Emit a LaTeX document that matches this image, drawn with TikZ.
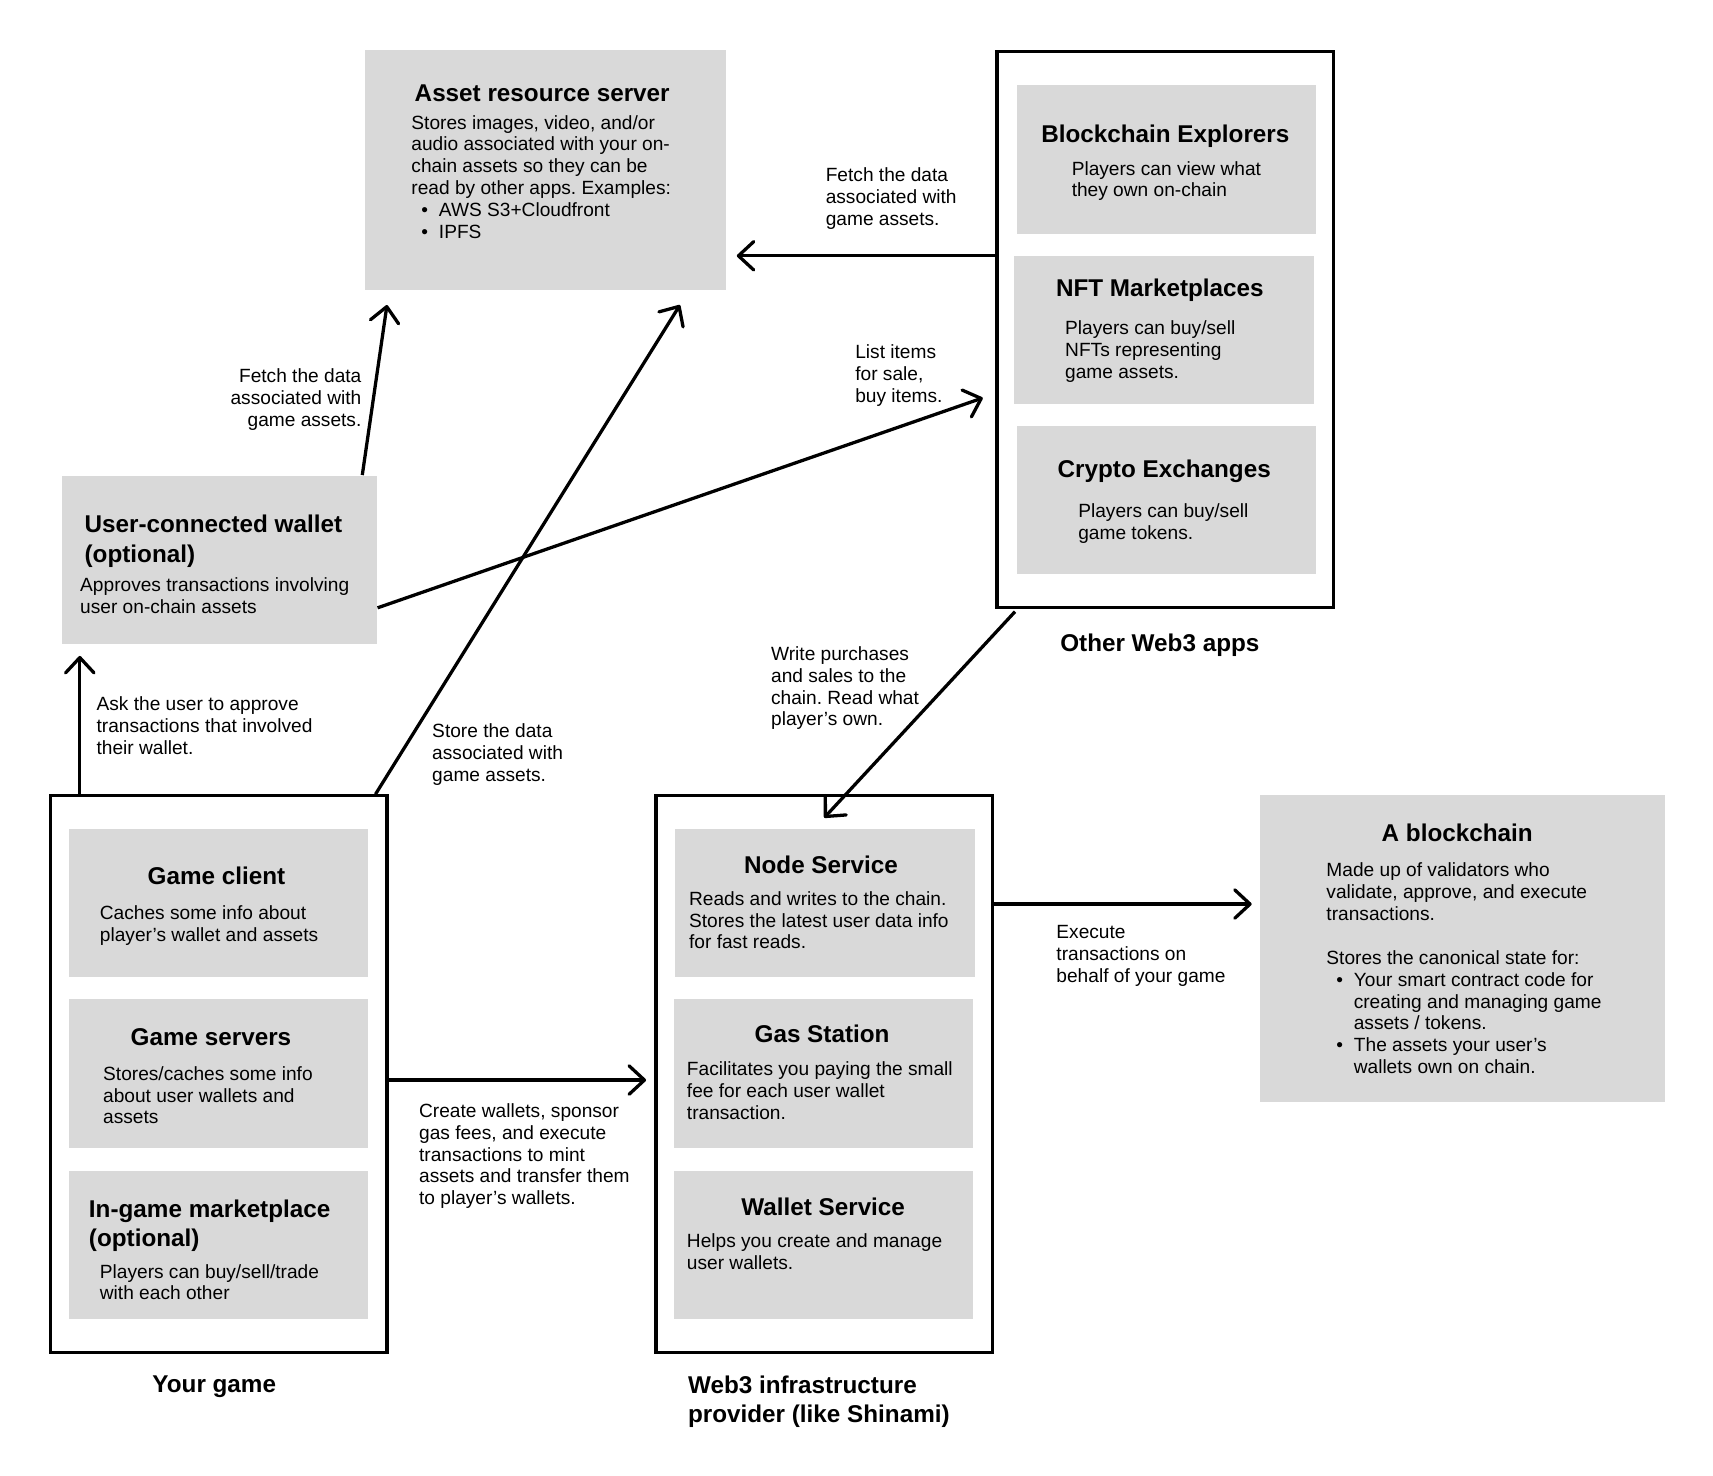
\documentclass[tikz,border=0pt]{standalone}
\usepackage{fontspec}
\setmainfont{Liberation Sans}
\usepackage{xcolor}
\usetikzlibrary{arrows.meta,calc}
\definecolor{cardgray}{HTML}{D9D9D9}
\frenchspacing
\newcommand{\bodyfont}{\fontsize{8.75}{10}\selectfont}
\newcommand{\headfont}{\fontsize{11.1}{13.5}\selectfont\bfseries}
\newcommand{\itm}{\hspace*{4.5pt}\textbullet\hspace{5pt}}
\newcommand{\cont}{\hspace*{12.5pt}}

\begin{document}
\begin{tikzpicture}[x=0.5pt,y=-0.5pt]
  \tikzset{grp/.style = {shape=rectangle,draw,line width=1.5pt,inner sep=0pt,minimum width=154pt,minimum height=254.5pt}}
  \tikzset{card/.style = {shape=rectangle,fill=cardgray,inner sep=0pt,minimum width=137pt,minimum height=68pt}}
  \tikzset{ttl/.style = {inner sep=0pt,font=\headfont,anchor=base}}
  \tikzset{txt/.style = {inner sep=0pt,font=\bodyfont,align=left,anchor=north west}}
  \tikzset{flow/.style = {-{Straight Barb[length=7pt,width=13pt,round]},line width=1.5pt}}

  \fill[white] (0,0) rectangle (1567,1350);
  \useasboundingbox (0,0) rectangle (1567,1350);

  % groups
  \node[grp] (O) at (1066,301.5) {};
  \node[grp] (G) at (200,982.5) {};
  \node[grp] (I) at (754,982.5) {};
  \node[ttl] (Ol) at (1061,596) {Other Web3 apps};
  \node[ttl] (Gl) at (196,1274) {Your game};
  \node[ttl,anchor=north west,align=left] (Il) at (629,1258) {Web3 infrastructure\\provider (like Shinami)};

  % asset server
  \node[card,minimum width=165pt,minimum height=109.5pt] (S) at (499,155.5) {};
  \node[ttl] (St) at (496,93) {Asset resource server};
  \node[txt] (Sb) at (376,105) {Stores images, video, and/or\\audio associated with your on-\\chain assets so they can be\\read by other apps. Examples:\\\itm AWS S3+Cloudfront\\\itm IPFS};

  % wallet
  \node[card,minimum width=144pt,minimum height=77pt] (W) at (201,512) {};
  \node[ttl,anchor=north west,align=left] (Wt) at (77,471) {User-connected wallet\\(optional)};
  \node[txt] (Wb) at (73,528) {Approves transactions involving\\user on-chain assets};

  % other web3 apps
  \node[card] (BE) at (1067,146) {};
  \node[ttl] (BEt) at (1066,130) {Blockchain Explorers};
  \node[txt] (BEb) at (980,147) {Players can view what\\they own on-chain};
  \node[card] (NM) at (1065,302) {};
  \node[ttl] (NMt) at (1061,271) {NFT Marketplaces};
  \node[txt] (NMb) at (974,293) {Players can buy/sell\\NFTs representing\\game assets.};
  \node[card,minimum height=67.5pt] (CE) at (1067,457.5) {};
  \node[ttl] (CEt) at (1065,437) {Crypto Exchanges};
  \node[txt] (CEb) at (986,460) {Players can buy/sell\\game tokens.};

  % your game
  \node[card] (GC) at (200,826) {};
  \node[ttl] (GCt) at (198,809) {Game client};
  \node[txt] (GCb) at (91,828) {Caches some info about\\player’s wallet and assets};
  \node[card] (GS) at (200,982) {};
  \node[ttl] (GSt) at (193,956) {Game servers};
  \node[txt] (GSb) at (94,975) {Stores/caches some info\\about user wallets and\\assets};
  \node[card] (IM) at (200,1139) {};
  \node[ttl,anchor=north west,align=left] (IMt) at (81,1097) {In-game marketplace\\(optional)};
  \node[txt] (IMb) at (91,1156) {Players can buy/sell/trade\\with each other};

  % web3 infrastructure
  \node[card] (NS) at (754.5,826) {};
  \node[ttl] (NSt) at (751,799) {Node Service};
  \node[txt] (NSb) at (630,815) {Reads and writes to the chain.\\Stores the latest user data info\\for fast reads.};
  \node[card] (GA) at (753.5,982) {};
  \node[ttl] (GAt) at (752,954) {Gas Station};
  \node[txt] (GAb) at (628,971) {Facilitates you paying the small\\fee for each user wallet\\transaction.};
  \node[card] (WS) at (753.5,1139) {};
  \node[ttl] (WSt) at (753,1112) {Wallet Service};
  \node[txt] (WSb) at (628,1128) {Helps you create and manage\\user wallets.};

  % blockchain
  \node[card,minimum width=185pt,minimum height=140.5pt] (K) at (1338,867.5) {};
  \node[ttl] (Kt) at (1333,770) {A blockchain};
  \node[txt] (Kb) at (1213,789) {Made up of validators who\\validate, approve, and execute\\transactions.\\[10pt]Stores the canonical state for:\\\itm Your smart contract code for\\\cont creating and managing game\\\cont assets / tokens.\\\itm The assets your user’s\\\cont wallets own on chain.};

  % arrow ends
  \coordinate (a2) at (674,234);
  \coordinate (a1) at (O.west |- a2);
  \coordinate (b2) at (354,279);
  \coordinate (b1) at ($(W.north east)+(-14,0)$);
  \coordinate (c2) at (622,279);
  \coordinate (c1) at ($(G.north east)+(-12,0)$);
  \coordinate (d2) at (899,364);
  \coordinate (d1) at ($(W.east)+(0,44)$);
  \coordinate (e2) at (73,600);
  \coordinate (e1) at (G.north -| e2);
  \coordinate (f2) at (754,748);
  \coordinate (f1) at ($(O.south west)+(18,2)$);
  \coordinate (g2) at (1145,827);
  \coordinate (g1) at (I.east |- g2);
  \coordinate (h2) at (591,988);
  \coordinate (h1) at (G.east |- h2);

  \foreach \from/\to in {a1/a2, b1/b2, c1/c2, d1/d2, e1/e2, f1/f2, g1/g2, h1/h2}
    \path[flow] (\from) edge (\to);

  % arrow labels
  \node[txt] (La) at (755,153) {Fetch the data\\associated with\\game assets.};
  \node[txt,anchor=north east,align=right] (Lb) at (331,337) {Fetch the data\\associated with\\game assets.};
  \node[txt] (Lc) at (395,662) {Store the data\\associated with\\game assets.};
  \node[txt] (Ld) at (782,315) {List items\\for sale,\\buy items.};
  \node[txt] (Le) at (88,637) {Ask the user to approve\\transactions that involved\\their wallet.};
  \node[txt] (Lf) at (705,591) {Write purchases\\and sales to the\\chain. Read what\\player’s own.};
  \node[txt] (Lg) at (966,846) {Execute\\transactions on\\behalf of your game};
  \node[txt] (Lh) at (383,1009) {Create wallets, sponsor\\gas fees, and execute\\transactions to mint\\assets and transfer them\\to player’s wallets.};
\end{tikzpicture}
\end{document}
